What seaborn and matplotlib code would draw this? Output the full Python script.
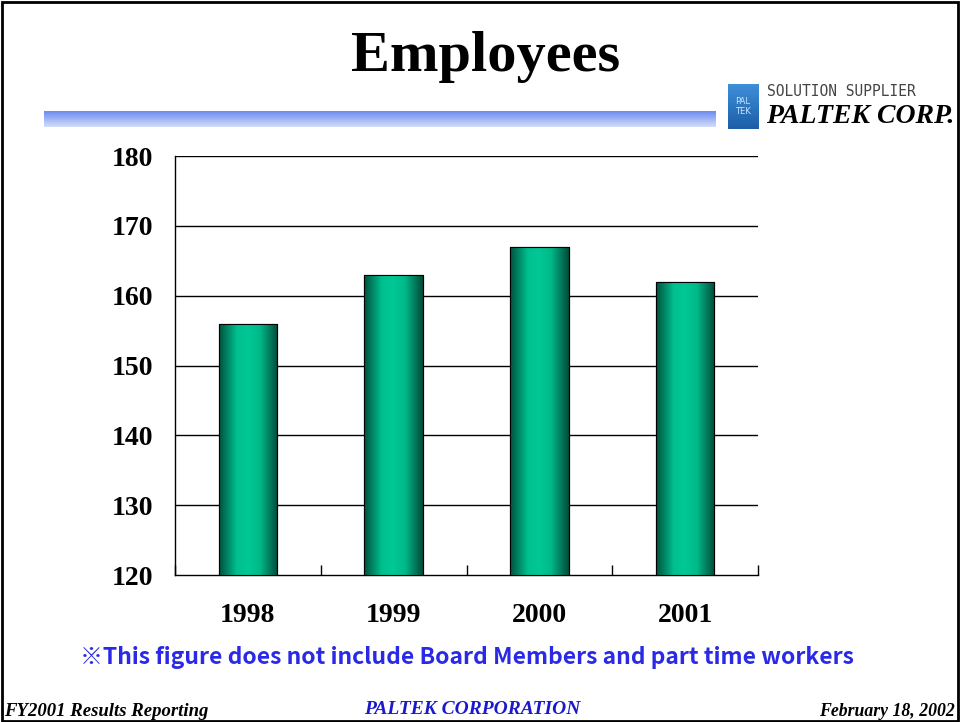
import numpy as np
import pandas as pd
import matplotlib
matplotlib.use("Agg")
import matplotlib.pyplot as plt
from matplotlib.colors import LinearSegmentedColormap
from matplotlib.patches import Rectangle
import seaborn as sns

# Chart data
years = ["1998", "1999", "2000", "2001"]
employees = [156, 163, 167, 162]
y_ticks = [120, 130, 140, 150, 160, 170, 180]

df = pd.DataFrame({"Year": years, "Employees": employees})

sns.set_theme(style="white")
plt.rcParams["font.family"] = ["Liberation Serif", "DejaVu Serif"]
plt.rcParams["text.color"] = "black"

fig = plt.figure(figsize=(9.6, 7.22), dpi=100)
ax = fig.add_axes([0.1823, 0.2036, 0.6073, 0.5803])

sns.barplot(data=df, x="Year", y="Employees", ax=ax, width=0.4,
            color="#00c896", edgecolor="black", linewidth=0.8, zorder=3)

ax.set_ylim(120, 180)
ax.set_xlim(-0.5, len(years) - 0.5)
ax.set_yticks(y_ticks)
ax.set_ylabel("")
ax.set_xlabel("")

# horizontal gradient inside each bar (dark edges, bright middle)
bar_cmap = LinearSegmentedColormap.from_list(
    "bar", [(0.0, "#00503c"), (0.3, "#00bf8f"), (0.5, "#00c896"),
            (0.7, "#00b888"), (1.0, "#004a38")])
grad = np.linspace(0, 1, 256).reshape(1, -1)
for p in ax.patches:
    x0, w, h = p.get_x(), p.get_width(), p.get_height()
    im = ax.imshow(grad, cmap=bar_cmap, aspect="auto", zorder=3.5,
                   extent=(x0, x0 + w, 120, h), interpolation="bilinear")
    im.set_clip_path(p)
    ax.add_patch(Rectangle((x0, 120), w, h - 120, fill=False,
                           edgecolor="black", linewidth=0.8, zorder=4))

ax.set_xlim(-0.5, len(years) - 0.5)
ax.set_ylim(120, 180)

ax.grid(False)
for yv in y_ticks[1:]:
    ax.axhline(yv, color="black", linewidth=1.0, zorder=1)

for s in ["top", "right"]:
    ax.spines[s].set_visible(False)
for s in ["left", "bottom"]:
    ax.spines[s].set_color("black")
    ax.spines[s].set_linewidth(1.0)

ax.tick_params(axis="y", which="major", length=0, pad=16, labelsize=20)
ax.tick_params(axis="x", which="major", length=0, pad=20, labelsize=20)
ax.set_xticks(np.arange(-0.5, len(years)), minor=True)
ax.tick_params(axis="x", which="minor", direction="in", length=7,
               width=1, color="black", bottom=True)
for lab in ax.get_xticklabels() + ax.get_yticklabels():
    lab.set_fontweight("bold")
    lab.set_color("black")

# slide decorations
fig.patches.append(Rectangle((0.002, 0.002), 0.996, 0.995, transform=fig.transFigure,
                             fill=False, edgecolor="black", linewidth=2))
fig.text(0.506, 0.921, "Employees", ha="center", va="center",
         fontsize=42, fontweight="bold", color="black")

band = fig.add_axes([0.046, 0.824, 0.699, 0.022])
band.imshow(np.linspace(0, 1, 64).reshape(-1, 1),
            cmap=LinearSegmentedColormap.from_list("band", ["#6a8cf0", "#d4ddf8"]),
            aspect="auto", interpolation="bilinear")
band.axis("off")

logo = fig.add_axes([0.758, 0.822, 0.032, 0.061])
logo.imshow(np.linspace(0, 1, 32).reshape(-1, 1),
            cmap=LinearSegmentedColormap.from_list("logo", ["#3d8fd8", "#1c5fa8"]),
            aspect="auto")
logo.text(0.5, 0.5, "PAL\nTEK", ha="center", va="center", fontsize=6,
          color="#cfe4ff", transform=logo.transAxes, family="DejaVu Sans")
logo.axis("off")
fig.text(0.799, 0.873, "SOLUTION SUPPLIER", fontsize=10.5, color="#444444",
         family="DejaVu Sans Mono", va="center")
fig.text(0.798, 0.838, "PALTEK CORP.", fontsize=20, fontweight="bold",
         fontstyle="italic", color="black", va="center")

fig.text(0.0835, 0.0895, "\u203bThis figure does not include Board Members and part time workers",
         fontsize=16.5, fontweight="bold", color="#2a2ae6", va="center",
         family=["Noto Sans CJK JP", "DejaVu Sans"])

fig.text(0.004, 0.015, "FY2001 Results Reporting", fontsize=13.5, fontweight="bold",
         fontstyle="italic", va="center")
fig.text(0.492, 0.017, "PALTEK CORPORATION", fontsize=14, fontweight="bold",
         fontstyle="italic", color="#1a1acc", ha="center", va="center")
fig.text(0.995, 0.015, "February 18, 2002", fontsize=12.8, fontweight="bold",
         fontstyle="italic", ha="right", va="center")

fig.savefig("out.png", dpi=100)
